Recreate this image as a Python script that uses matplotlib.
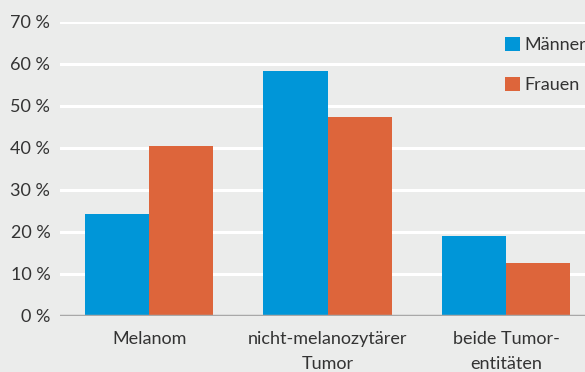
import matplotlib
matplotlib.use("Agg")
import matplotlib.pyplot as plt
import numpy as np
from matplotlib.patches import Patch

categories = ["Melanom", "nicht-melanozytärer\nTumor", "beide Tumor-\nentitäten"]
maenner = [24.3, 58.3, 19.0]
frauen = [40.5, 47.4, 12.6]
series_names = ["Männer", "Frauen"]
yticks = [0, 10, 20, 30, 40, 50, 60, 70]
ytick_labels = ["0 %", "10 %", "20 %", "30 %", "40 %", "50 %", "60 %", "70 %"]

bg = "#ebeceb"
blue = "#0096d8"
orange = "#dd653b"
txt = "#333333"

plt.rcParams['font.family'] = ['Lato', 'DejaVu Sans']

fig = plt.figure(figsize=(5.85, 3.72), dpi=100, facecolor=bg)
ax = fig.add_axes([60/585, 56/372, 525/585, 294/372], facecolor=bg)

x = np.arange(len(categories))
w = 0.36
ax.bar(x - w/2, maenner, w, color=blue, zorder=3, linewidth=0)
ax.bar(x + w/2, frauen, w, color=orange, zorder=3, linewidth=0)

ax.set_xlim(-0.5, 2.443)
ax.set_ylim(0, 70)
ax.set_yticks(yticks)
ax.set_yticklabels(ytick_labels)
ax.set_xticks(x)
ax.set_xticklabels(categories, linespacing=1.65)
ax.tick_params(axis='both', length=0, labelsize=13, colors=txt)
ax.tick_params(axis='y', pad=7)
ax.tick_params(axis='x', pad=11)

for v in yticks[1:]:
    ax.axhline(v, color="white", lw=2.2, zorder=1)
ax.axhline(0, color="#a8a8a8", lw=2.5, zorder=4)

for s in ax.spines.values():
    s.set_visible(False)

handles = [Patch(facecolor=blue, label=series_names[0]), Patch(facecolor=orange, label=series_names[1])]
leg = fig.legend(handles=handles, loc="upper left", bbox_to_anchor=(498/585, 1 - 30/372),
                 frameon=False, fontsize=13, handlelength=0.8, handleheight=0.8,
                 handletextpad=0.25, labelspacing=1.32, labelcolor=txt, borderaxespad=0)

fig.savefig("out.png", dpi=100, facecolor=bg)
